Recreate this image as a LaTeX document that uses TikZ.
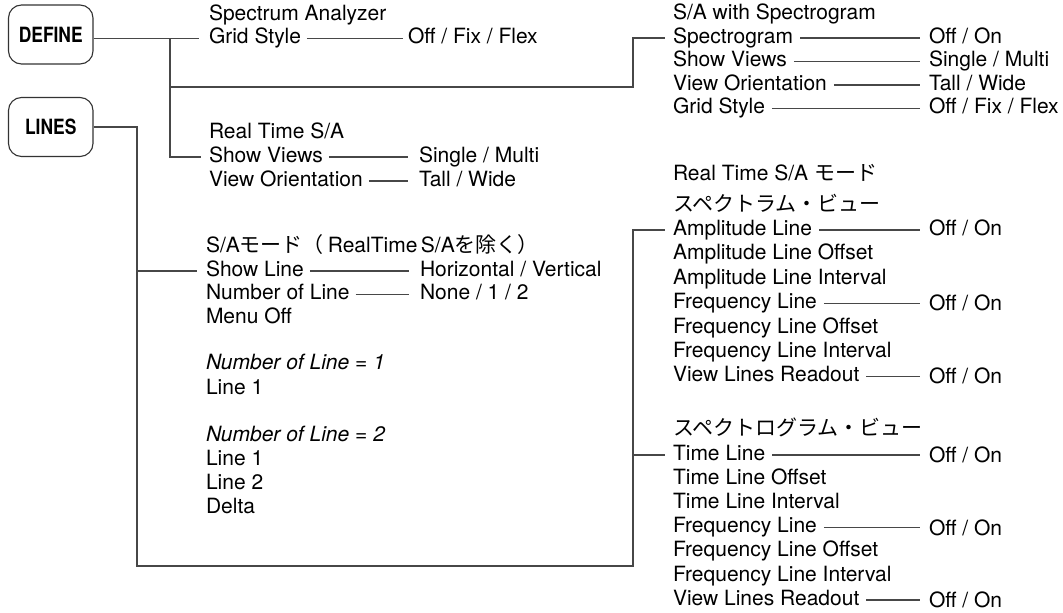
\documentclass[tikz,border=0pt]{standalone}
\usepackage{graphicx}
\usepackage{fontspec}
\setmainfont{TeX Gyre Heros}
\newfontfamily\jpfont{Noto Sans CJK JP}
\tikzset{
  conn/.style={line width=1.2pt, draw=black!72},
  txt/.style={anchor=west, inner sep=0pt, outer sep=0pt, text height=15pt, text depth=4.5pt, font=\fontsize{21}{24}\selectfont},
  keybox/.style={draw=black!80, line width=1.1pt, rounded corners=13pt, minimum width=84.5pt, minimum height=59pt, inner sep=0pt, font=\fontsize{21}{24}\selectfont\bfseries},
  vlL/.style={conn, shorten <=6pt, shorten >=11pt},
  vlF/.style={conn, shorten <=6pt, shorten >=5pt},
  vlR/.style={conn, shorten <=7pt, shorten >=9pt},
}
\begin{document}
\begin{tikzpicture}[x=1pt,y=-1pt]
\useasboundingbox (0,0) rectangle (1063,613);
% keys
\node[keybox] (define) at (50.75,34.5) {\raisebox{-2pt}{\scalebox{0.83}[1]{DEFINE}}};
\node[keybox] (lines) at (50.75,127) {\scalebox{0.83}[1]{LINES}};
% junction coordinates
\coordinate (jA) at (170,87);
\coordinate (jB) at (633,87);
\coordinate (jC) at (137,566);
\coordinate (jD) at (633,566);
% left top
\node[txt] (sa) at (209,15) {Spectrum Analyzer};
\node[txt] (gs) at (209,38.5) {Grid Style};
\node[txt] (gsv) at (408,38.5) {Off / Fix / Flex};
\node[txt] (rt) at (209,133.5) {Real Time S/A};
\node[txt] (sv) at (209,157) {Show Views};
\node[txt] (svv) at (419,157) {Single / Multi};
\node[txt] (vo) at (209,181) {View Orientation};
\node[txt] (vov) at (419,181) {Tall / Wide};
% right top
\node[txt] (sas) at (673,14.5) {S/A with Spectrogram};
\node[txt] (spg) at (673,38) {Spectrogram};
\node[txt] (spgv) at (929,38) {Off / On};
\node[txt] (sv2) at (673,61.5) {Show Views};
\node[txt] (sv2v) at (929,61.5) {Single / Multi};
\node[txt] (vo2) at (673,85) {View Orientation};
\node[txt] (vo2v) at (929,85) {Tall / Wide};
\node[txt] (gs2) at (673,108.5) {Grid Style};
\node[txt] (gs2v) at (929,108.5) {Off / Fix / Flex};
% left lower
\node[txt] (sam) at (206,247.5) {S/A{\jpfont モード（}\hspace{4pt}RealTime\,S/A{\jpfont を除く）}};
\node[txt] (sl) at (206,271) {Show Line};
\node[txt] (slv) at (420,271) {Horizontal / Vertical};
\node[txt] (nl) at (206,294.5) {Number of Line};
\node[txt] (nlv) at (420,294.5) {None / 1 / 2};
\node[txt] (mo) at (206,318) {Menu Off};
\node[txt] (n1) at (206,364.5) {\itshape Number of Line = 1};
\node[txt] (l1) at (206,389) {Line 1};
\node[txt] (n2) at (206,436) {\itshape Number of Line = 2};
\node[txt] (l1b) at (206,460) {Line 1};
\node[txt] (l2) at (206,484) {Line 2};
\node[txt] (de) at (206,508) {Delta};
% right lower
\node[txt] (rtm) at (673,175) {Real Time S/A {\jpfont モード}};
\node[txt] (spv) at (673,206) {\jpfont スペクトラム・ビュー};
\node[txt] (amp) at (673,230) {Amplitude Line};
\node[txt] (ampv) at (929,230) {Off / On};
\node[txt] (ampo) at (673,254.5) {Amplitude Line Offset};
\node[txt] (ampi) at (673,279) {Amplitude Line Interval};
\node[txt] (fl) at (673,303.5) {Frequency Line};
\node[txt] (flv) at (929,305.5) {Off / On};
\node[txt] (flo) at (673,328) {Frequency Line Offset};
\node[txt] (fli) at (673,352) {Frequency Line Interval};
\node[txt] (vlr) at (673,376.5) {View Lines Readout};
\node[txt] (vlrv) at (929,378.5) {Off / On};
\node[txt] (sgv) at (673,430) {\jpfont スペクトログラム・ビュー};
\node[txt] (tl) at (673,455) {Time Line};
\node[txt] (tlv) at (929,457.5) {Off / On};
\node[txt] (tlo) at (673,479) {Time Line Offset};
\node[txt] (tli) at (673,503.5) {Time Line Interval};
\node[txt] (fl2) at (673,527.5) {Frequency Line};
\node[txt] (fl2v) at (929,530) {Off / On};
\node[txt] (flo2) at (673,551.5) {Frequency Line Offset};
\node[txt] (fli2) at (673,576) {Frequency Line Interval};
\node[txt] (vlr2) at (673,600) {View Lines Readout};
\node[txt] (vlr2v) at (929,602.5) {Off / On};
% DEFINE tree
\draw[conn, shorten >=10pt] (define.east |- gs.west) -- (gs.west);
\draw[conn, shorten >=8pt] (jA |- gs.west) |- (sv.west);
\draw[conn, shorten >=8pt] (jA) -- (jB) |- (spg.west);
% LINES tree
\draw[conn, shorten >=8pt] (lines.east) -| (jC) -- (jD) |- (amp.west);
\draw[conn, shorten >=9pt] (jC |- sl.west) -- (sl.west);
\draw[conn, shorten >=8pt] (jD |- tl.west) -- (tl.west);
% value connectors
\draw[vlF] (gs.east) -- (gs.east -| gsv.west);
\draw[vlL] (sv.east) -- (sv.east -| svv.west);
\draw[vlL] (vo.east) -- (vo.east -| vov.west);
\draw[vlL] (sl.east) -- (sl.east -| slv.west);
\draw[vlL] (nl.east) -- (nl.east -| nlv.west);
\draw[vlR] (spg.east) -- (spg.east -| spgv.west);
\draw[vlR] (sv2.east) -- (sv2.east -| sv2v.west);
\draw[vlR] (vo2.east) -- (vo2.east -| vo2v.west);
\draw[vlR] (gs2.east) -- (gs2.east -| gs2v.west);
\draw[vlR] (amp.east) -- (amp.east -| ampv.west);
\draw[vlR] (fl.east) -- (fl.east -| flv.west);
\draw[vlR] (vlr.east) -- (vlr.east -| vlrv.west);
\draw[vlR] (tl.east) -- (tl.east -| tlv.west);
\draw[vlR] (fl2.east) -- (fl2.east -| fl2v.west);
\draw[vlR] (vlr2.east) -- (vlr2.east -| vlr2v.west);
\end{tikzpicture}
\end{document}
